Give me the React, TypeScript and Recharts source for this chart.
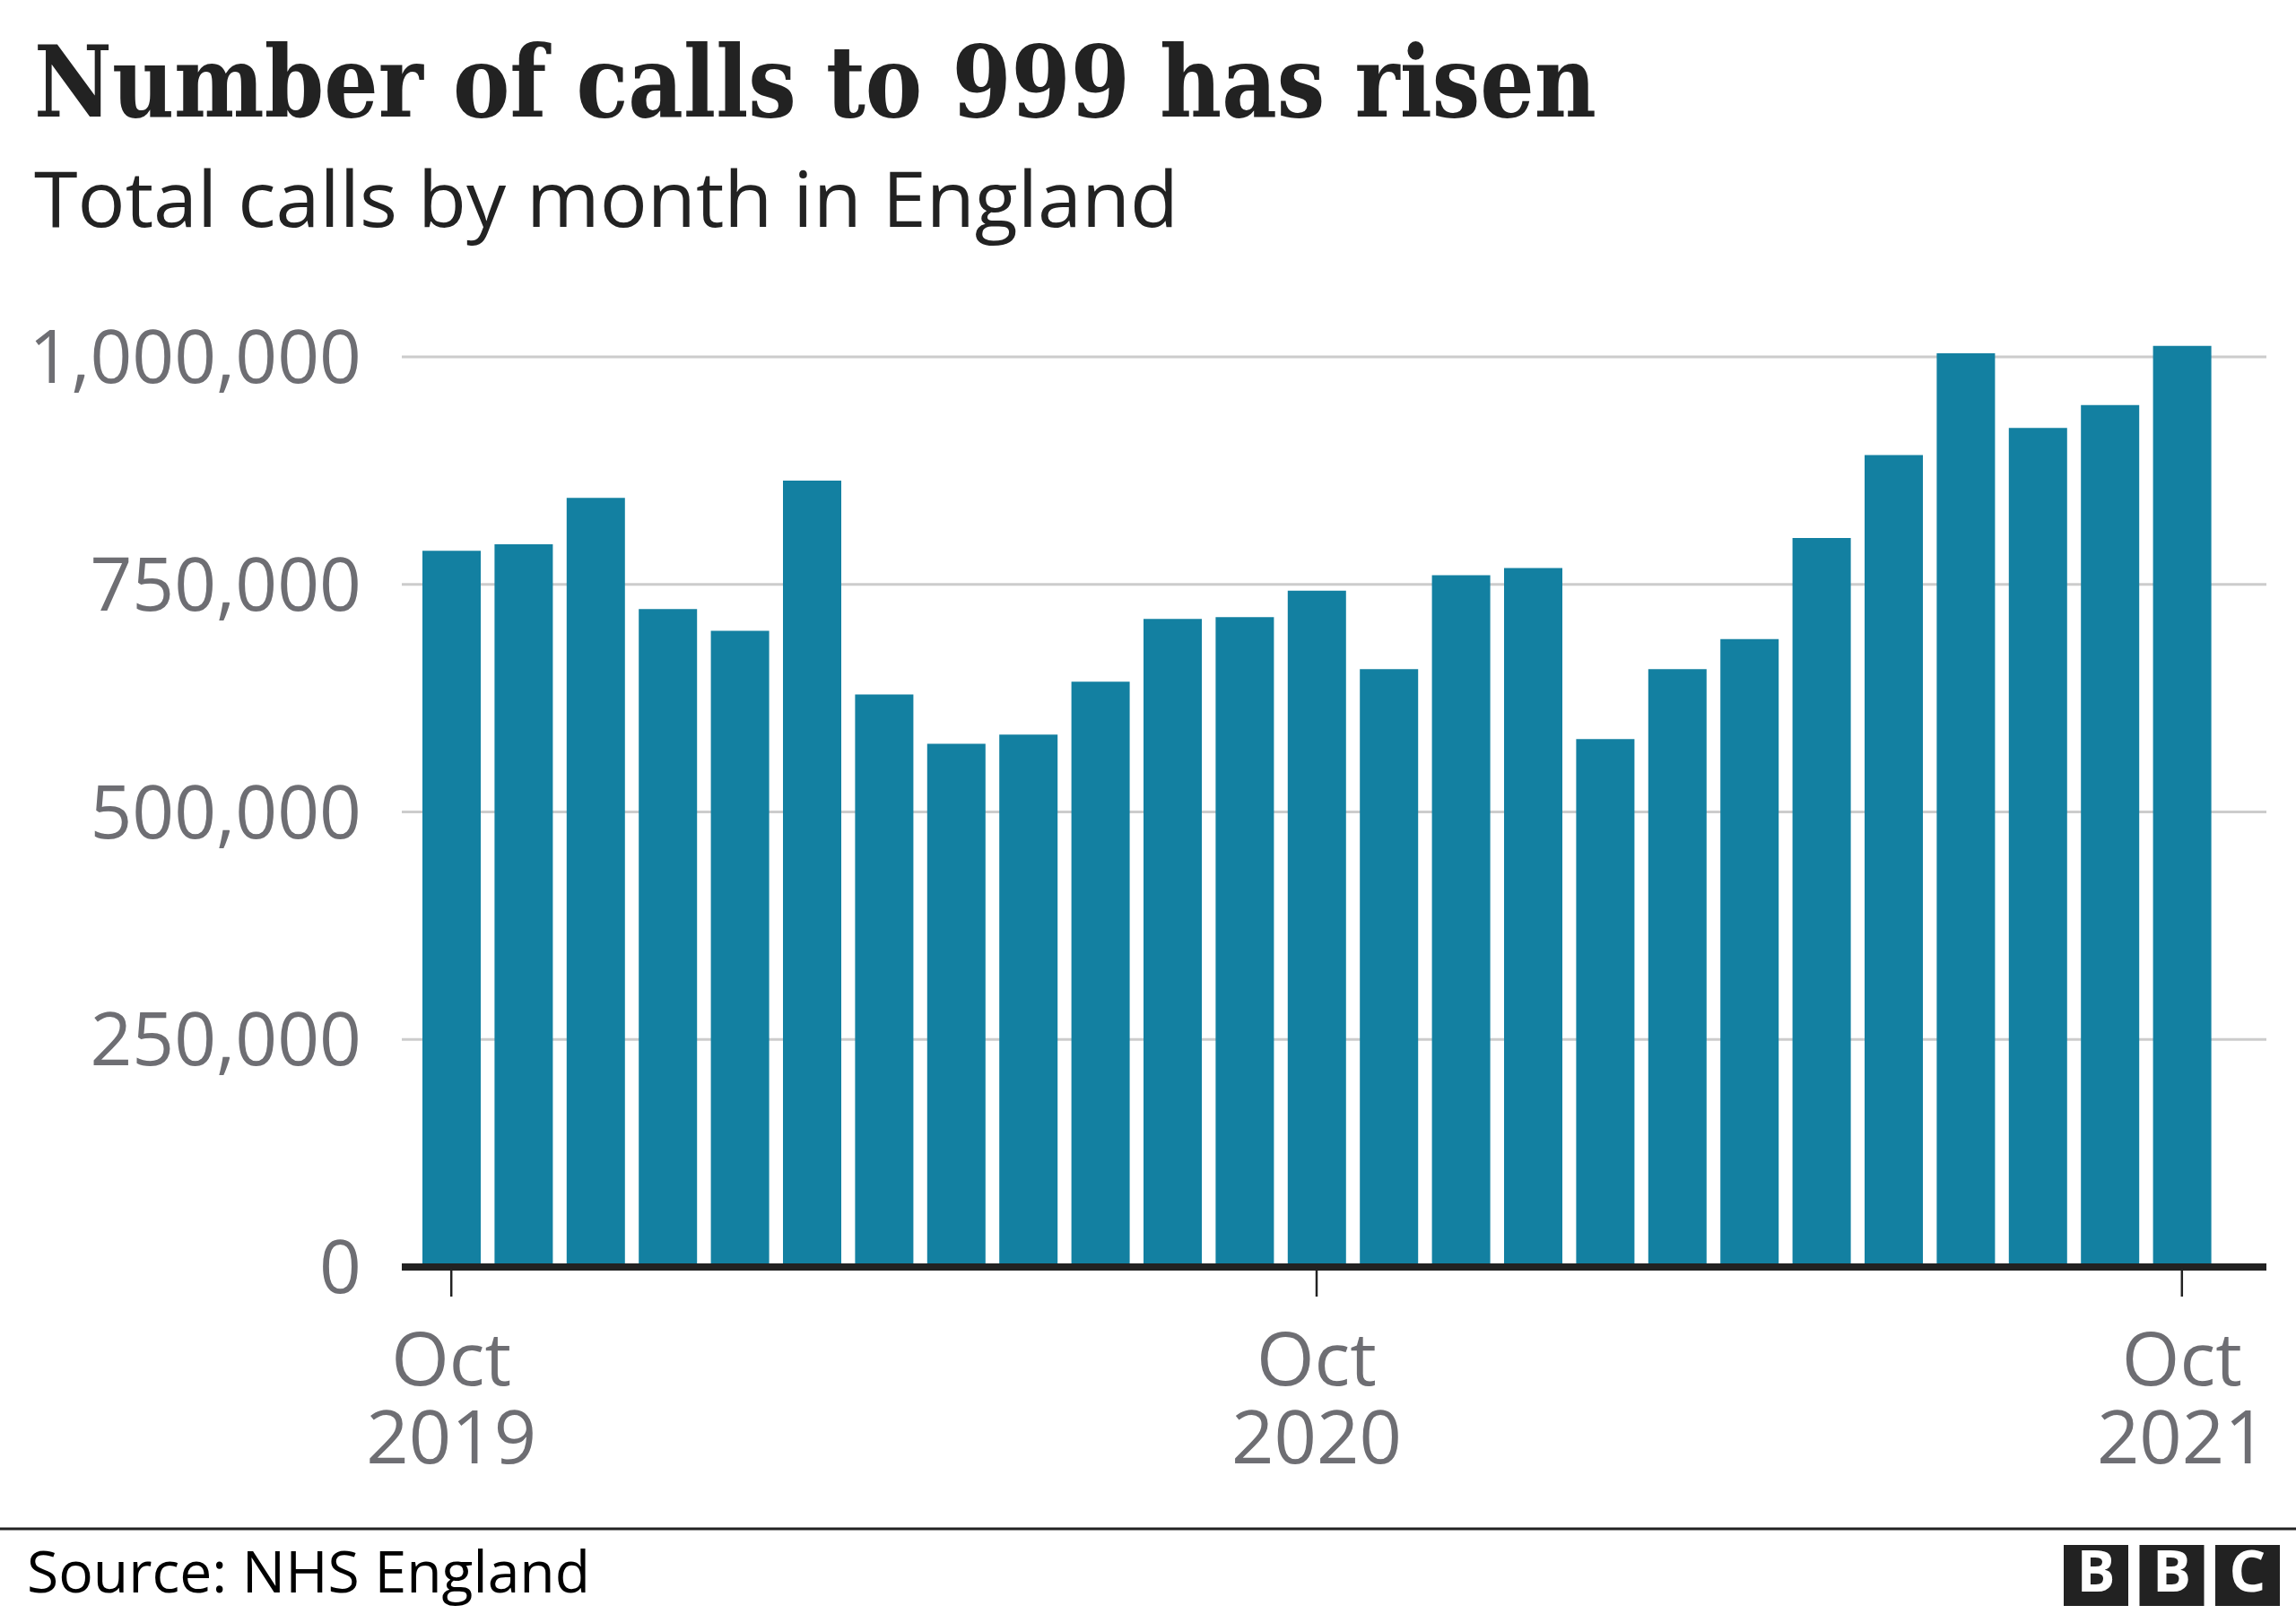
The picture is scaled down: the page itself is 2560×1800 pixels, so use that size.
import { BarChart, Bar, XAxis, YAxis, CartesianGrid } from "recharts";

const months = [
  "Oct 2019", "Nov 2019", "Dec 2019", "Jan 2020", "Feb 2020", "Mar 2020",
  "Apr 2020", "May 2020", "Jun 2020", "Jul 2020", "Aug 2020", "Sep 2020",
  "Oct 2020", "Nov 2020", "Dec 2020", "Jan 2021", "Feb 2021", "Mar 2021",
  "Apr 2021", "May 2021", "Jun 2021", "Jul 2021", "Aug 2021", "Sep 2021",
  "Oct 2021",
];

const calls = [
  787000, 794000, 845000, 723000, 699000, 864000,
  629000, 575000, 585000, 643000, 712000, 714000,
  743000, 657000, 760000, 768000, 580000, 657000,
  690000, 801000, 892000, 1004000, 922000, 947000,
  1012000,
];

const yTicks = [0, 250000, 500000, 750000, 1000000];

const title = "Number of calls to 999 has risen";
const subtitle = "Total calls by month in England";
const source = "Source: NHS England";

const barColor = "#1380A1";
const axisGrey = "#6e6e73";
const dark = "#222222";
const sans = "'Open Sans', 'Noto Sans', sans-serif";

function MonthTick({ x, y, payload }: any) {
  const [mon, year] = String(payload.value).split(" ");
  return (
    <g>
      <text x={x} y={y + 99} textAnchor="middle" fill={axisGrey} fontFamily={sans} fontSize={83}>
        {mon}
      </text>
      <text x={x} y={y + 186} textAnchor="middle" fill={axisGrey} fontFamily={sans} fontSize={83}>
        {year}
      </text>
    </g>
  );
}

export default function App() {
  const data = months.map((m, i) => ({ month: m, calls: calls[i] }));

  return (
    <div style={{ position: "absolute", left: 0, top: 0, width: 2560, height: 1800, background: "#fff" }}>
      <svg width={2560} height={1800} style={{ position: "absolute", left: 0, top: 0 }}>
        <text
          x={38}
          y={130}
          fontFamily="'DejaVu Serif', serif"
          fontWeight="bold"
          fontSize={110}
          fill={dark}
          textLength={1742}
          lengthAdjust="spacingAndGlyphs"
        >
          {title}
        </text>
        <text
          x={38}
          y={253}
          fontFamily={sans}
          fontSize={86}
          fill={dark}
          textLength={1276}
          lengthAdjust="spacingAndGlyphs"
        >
          {subtitle}
        </text>
        <line x1={0} x2={2560} y1={1705} y2={1705} stroke={dark} strokeWidth={3} />
        <text
          x={30}
          y={1776}
          fontFamily={sans}
          fontSize={64}
          fill="#000"
          textLength={628}
          lengthAdjust="spacingAndGlyphs"
        >
          {source}
        </text>
        {["B", "B", "C"].map((ch, i) => (
          <g key={i}>
            <rect x={2301 + i * 84.5} y={1723} width={72} height={68} fill={dark} />
            <text
              x={2337 + i * 84.5}
              y={1775}
              textAnchor="middle"
              fontFamily={sans}
              fontWeight="bold"
              fontSize={64}
              fill="#fff"
            >
              {ch}
            </text>
          </g>
        ))}
      </svg>

      <div style={{ position: "absolute", left: 0, top: 0 }}>
        <BarChart
          width={2560}
          height={1690}
          data={data}
          margin={{ top: 296.5, right: 33, bottom: 27, left: 0 }}
        >
          <CartesianGrid vertical={false} horizontalValues={yTicks} stroke="#cccccc" strokeWidth={3} />
          <YAxis
            width={448}
            domain={[0, 1100000]}
            ticks={yTicks}
            tickLine={false}
            axisLine={false}
            tickSize={0}
            tickMargin={45}
            tickFormatter={(v: number) => v.toLocaleString("en-GB")}
            tick={{ fill: axisGrey, fontFamily: sans, fontSize: 82 }}
          />
          <Bar dataKey="calls" fill={barColor} barSize={65} isAnimationActive={false} />
          <XAxis
            dataKey="month"
            height={250}
            interval={11}
            padding={{ left: 15, right: 54 }}
            tickSize={33}
            tickMargin={0}
            axisLine={{ stroke: dark, strokeWidth: 8 }}
            tickLine={{ stroke: dark, strokeWidth: 2.5 }}
            tick={<MonthTick />}
          />
        </BarChart>
      </div>
    </div>
  );
}
